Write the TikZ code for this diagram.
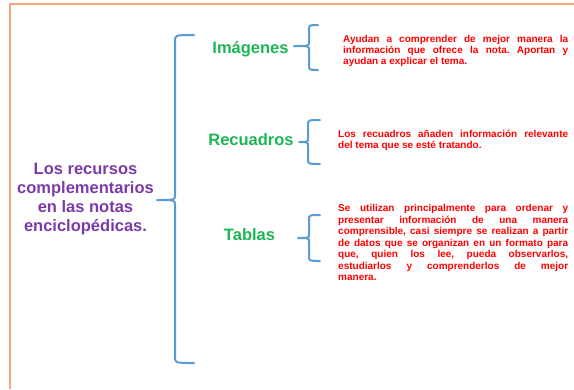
\documentclass[tikz,border=0pt]{standalone}
\usepackage{fontspec}
\setmainfont{Liberation Sans}
\definecolor{bblue}{HTML}{5B9BD5}
\definecolor{tgreen}{HTML}{1DB556}
\definecolor{tpurple}{HTML}{7A3BA8}
\definecolor{tred}{HTML}{FF0000}
\definecolor{frame}{HTML}{F6A27A}
\frenchspacing
\begin{document}
\begin{tikzpicture}[x=1pt,y=-1pt,
  brc/.style={draw=bblue, line width=2pt, line cap=round, line join=round},
  head/.style={text=tgreen, font=\bfseries\fontsize{16.5}{19}\selectfont, inner sep=0pt, anchor=base},
  desc/.style={text=tred, font=\bfseries\fontsize{10}{11}\selectfont, inner sep=0pt, anchor=north west, align=justify},
  mainbox/.style={text=tpurple, font=\bfseries\fontsize{16.5}{19}\selectfont, inner sep=0pt, anchor=north, align=center}]
\useasboundingbox (0,0) rectangle (574,389);
% frame
\coordinate (fA) at (10,389);
\coordinate (fB) at (10,4);
\coordinate (fC) at (574,4);
\draw[draw=frame, line width=1.2pt] (fA) -- (fB) -- (fC);

% main text
\node[mainbox] (main) at (85.5,162.5) {Los recursos\\complementarios\\en las notas\\enciclop\'edicas.};

% headings
\node[head] (img) at (250.5,53.5) {Im\'agenes};
\node[head] (rec) at (251,145) {Recuadros};
\node[head] (tab) at (249.5,240) {Tablas};

% descriptions
\node[desc, text width=225pt] (dimg) at (343,35.3) {\hyphenpenalty=10000 Ayudan a comprender de mejor manera la\linebreak informaci\'on que ofrece la nota. Aportan y\linebreak ayudan a explicar el tema.};
\node[desc, text width=230pt, font=\bfseries\fontsize{10}{10.6}\selectfont] (drec) at (338,130.3) {\hyphenpenalty=10000 Los recuadros a\~naden informaci\'on relevante\linebreak del tema que se est\'e tratando.};
\node[desc, text width=230pt, font=\bfseries\fontsize{10}{11.5}\selectfont] (dtab) at (338,204.3) {\hyphenpenalty=10000 Se utilizan principalmente para ordenar y\linebreak presentar informaci\'on de una manera\linebreak comprensible, casi siempre se realizan a partir\linebreak de datos que se organizan en un formato para\linebreak que, quien los lee, pueda observarlos,\linebreak estudiarlos y comprenderlos de mejor\linebreak manera.};

% big brace
\coordinate (bT) at (194,35);
\coordinate (bB) at (194,363);
\coordinate (bM) at (157,200);
\draw[brc] (bT) .. controls (175,35) .. (175,41) -- (175,195) .. controls (175,200) .. (bM)
  .. controls (175,200) .. (175,205) -- (175,357) .. controls (175,363) .. (bB);

% small braces
\coordinate (iT) at (318,25);
\coordinate (iB) at (318,70);
\coordinate (iM) at (294,46);
\draw[brc] (iT) .. controls (309,25) .. (309,30) -- (309,42) .. controls (309,46) .. (iM)
  .. controls (309,46) .. (309,50) -- (309,65) .. controls (309,70) .. (iB);

\coordinate (rT) at (320,120);
\coordinate (rB) at (320,164);
\coordinate (rM) at (299,142);
\draw[brc] (rT) .. controls (308,120) .. (308,125) -- (308,138) .. controls (308,142) .. (rM)
  .. controls (308,142) .. (308,146) -- (308,159) .. controls (308,164) .. (rB);

\coordinate (tT) at (320,215);
\coordinate (tB) at (320,261);
\coordinate (tM) at (298,238);
\draw[brc] (tT) .. controls (309,215) .. (309,220) -- (309,234) .. controls (309,238) .. (tM)
  .. controls (309,238) .. (309,242) -- (309,256) .. controls (309,261) .. (tB);
\end{tikzpicture}
\end{document}
